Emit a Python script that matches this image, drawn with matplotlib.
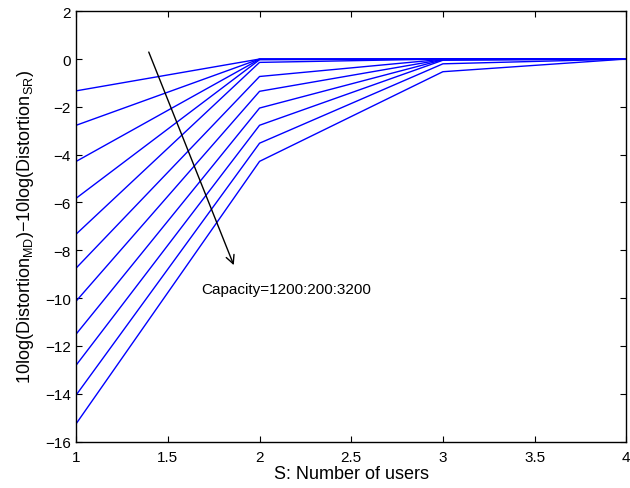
import matplotlib
matplotlib.use("Agg")
import matplotlib.pyplot as plt

plt.rcParams['font.family'] = ['Liberation Sans', 'DejaVu Sans']
plt.rcParams['mathtext.fontset'] = 'custom'
plt.rcParams['mathtext.rm'] = 'Liberation Sans'
plt.rcParams['mathtext.it'] = 'Liberation Sans'

users = [1, 2, 3, 4]
capacities = list(range(1200, 3201, 200))
series = [
    [-1.33, 0.0, 0.0, 0.0],
    [-2.77, 0.0, 0.0, 0.0],
    [-4.28, -0.01, 0.0, 0.0],
    [-5.82, -0.03, 0.0, 0.0],
    [-7.32, -0.14, 0.0, 0.0],
    [-8.74, -0.73, -0.01, 0.0],
    [-10.12, -1.35, -0.02, 0.0],
    [-11.5, -2.05, -0.03, 0.0],
    [-12.8, -2.77, -0.05, 0.0],
    [-14.05, -3.52, -0.2, 0.0],
    [-15.25, -4.28, -0.53, 0.0],
]
annotation = "Capacity=1200:200:3200"

fig = plt.figure(figsize=(6.3, 4.89), dpi=100)
ax = fig.add_axes([0.121, 0.095, 0.873, 0.880])
for vals in series:
    ax.plot(users, vals, color='#0000ff', linewidth=1.0)

ax.set_xlim(1, 4)
ax.set_ylim(-16, 2)
ax.set_xticks([1, 1.5, 2, 2.5, 3, 3.5, 4])
ax.set_xticklabels(['1', '1.5', '2', '2.5', '3', '3.5', '4'])
ax.set_yticks(range(-16, 3, 2))
ax.tick_params(direction='in', length=4, labelsize=11, top=True, right=True, pad=4)
ax.tick_params(axis='x', pad=6)
for s in ax.spines.values():
    s.set_linewidth(1.0)

ax.set_xlabel('S: Number of users', fontsize=13, labelpad=1)
ax.set_ylabel(r'10log(Distortion$_{\mathrm{MD}}$)$-$10log(Distortion$_{\mathrm{SR}}$)', fontsize=13, labelpad=6)

ax.annotate('', xy=(1.865, -8.73), xytext=(1.39, 0.4),
            arrowprops=dict(arrowstyle='->', color='black', lw=1.0, mutation_scale=15))
ax.text(1.684, -9.6, annotation, fontsize=11, va='center', ha='left')

fig.savefig('out.png', dpi=100)
